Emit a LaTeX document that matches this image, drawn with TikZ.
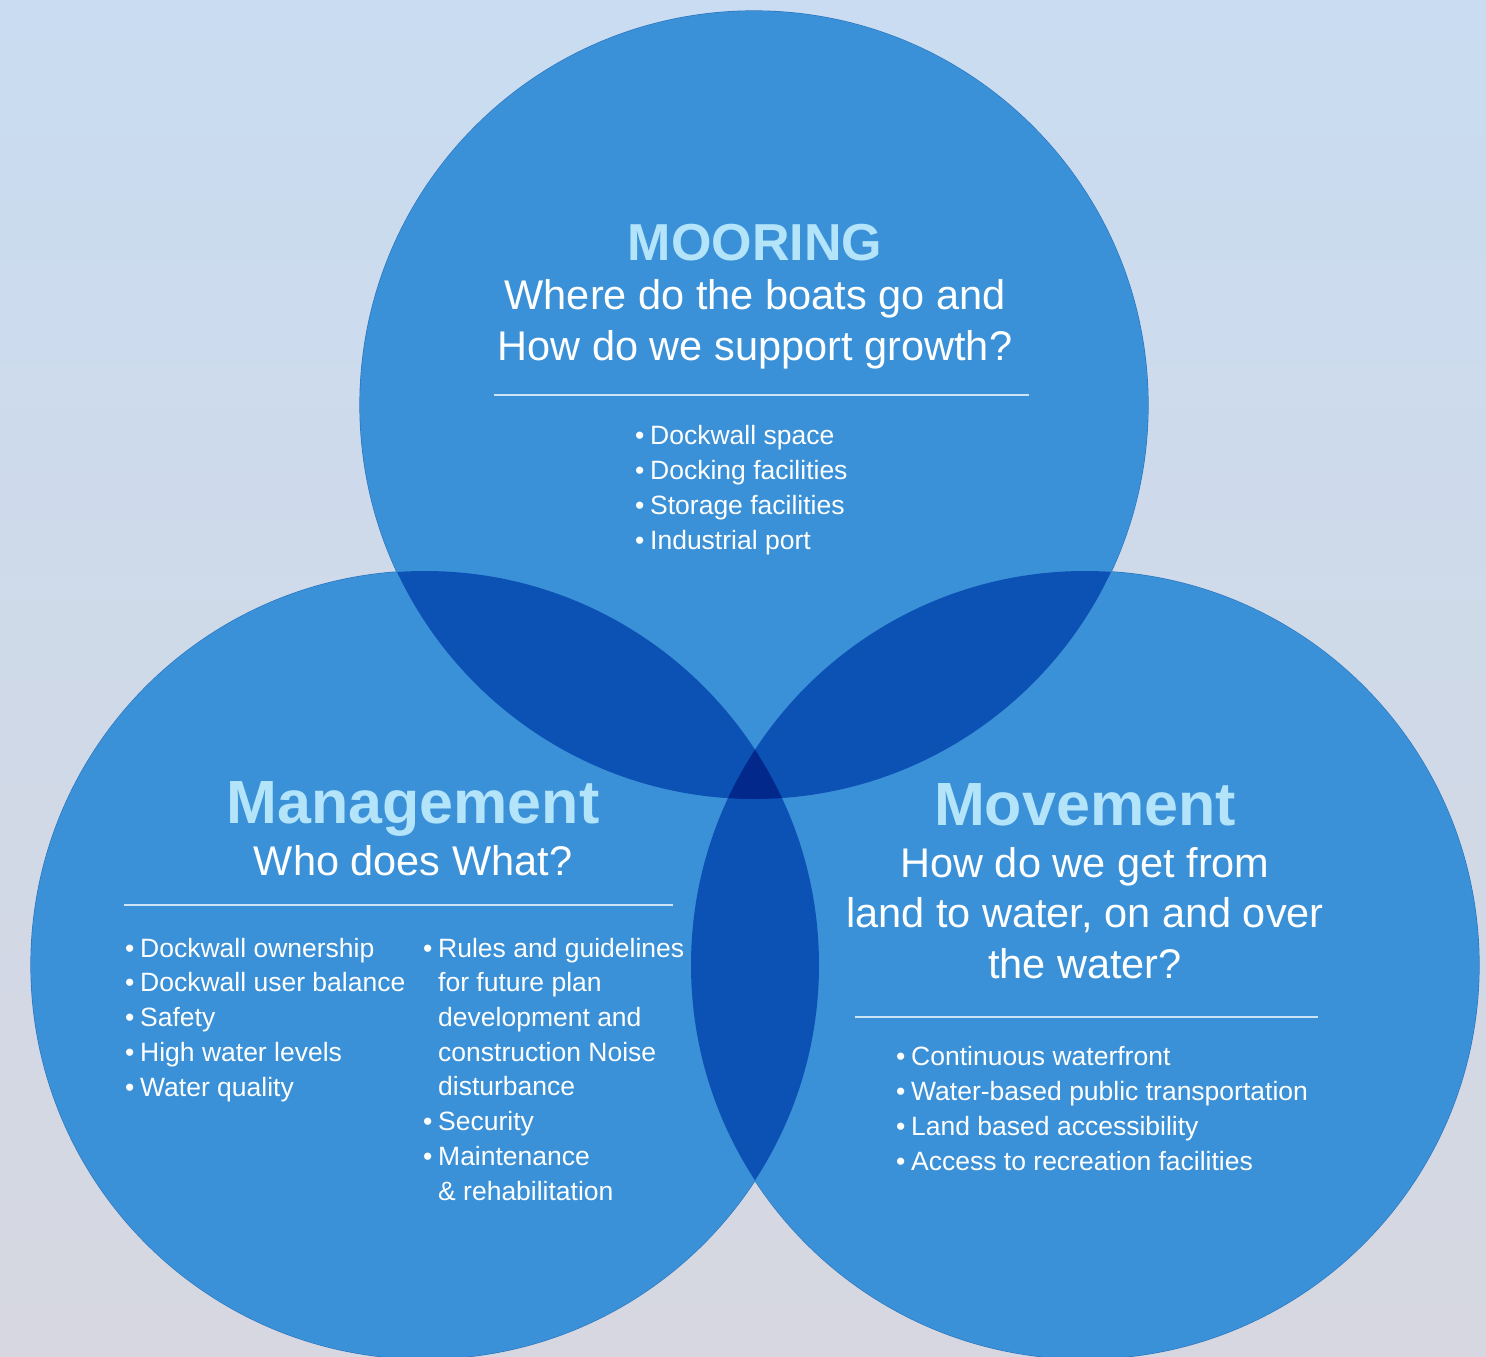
\documentclass[tikz,border=0pt]{standalone}
\usepackage{fontspec}
\setmainfont{Liberation Sans}
\usetikzlibrary{positioning}

\definecolor{skytop}{RGB}{201,220,241}
\definecolor{skybot}{RGB}{214,215,224}
\definecolor{ringblue}{RGB}{58,145,216}
\definecolor{ringedge}{RGB}{40,115,190}
\definecolor{pairblue}{RGB}{12,82,180}
\definecolor{coreblue}{RGB}{3,40,140}
\definecolor{headcyan}{RGB}{180,228,250}
\definecolor{rulecol}{RGB}{205,228,246}

\newcommand\bul{\makebox[15pt][l]{\textbullet}}
\newcommand\gap{\hspace*{15pt}}

\tikzset{
  headline/.style={font=\bfseries\fontsize{61}{61}\selectfont, text=headcyan, inner sep=0pt, anchor=base},
  question/.style={font=\fontsize{41.5}{50.5}\selectfont, text=white, align=center, inner sep=0pt, anchor=base},
  itemlist/.style={font=\fontsize{26.5}{34.7}\selectfont, text=white, align=left, inner sep=0pt, anchor=base west},
  sepline/.style={draw=rulecol, line width=1.5pt},
}

\begin{document}
\begin{tikzpicture}[x=1pt,y=-1pt]
\useasboundingbox (0,0) rectangle (1486,1357);
\shade[top color=skytop, bottom color=skybot] (0,0) rectangle (1486,1357);

% the three rings
\coordinate (mooringc) at (754,405);
\coordinate (managec) at (425,965);
\coordinate (movec) at (1085,965);
\foreach \c in {mooringc,managec,movec}
    \draw[ringedge, line width=1.2pt] (\c) circle (394pt);
\foreach \c in {mooringc,managec,movec}
    \fill[ringblue] (\c) circle (394pt);

% overlaps
\begin{scope}
\clip (mooringc) circle (394pt);
\fill[pairblue] (managec) circle (394pt);
\fill[pairblue] (movec) circle (394pt);
\end{scope}
\begin{scope}
\clip (managec) circle (394pt);
\fill[pairblue] (movec) circle (394pt);
\end{scope}
\begin{scope}
\clip (mooringc) circle (394pt);
\clip (managec) circle (394pt);
\fill[coreblue] (movec) circle (394pt);
\end{scope}

% mooring (multi-line nodes sit on the baseline of their last line)
\node[headline, font=\bfseries\fontsize{52}{52}\selectfont] (mooringhead) at (755,260) {MOORING};
\node[question] (mooringask) at (755,360) {Where do the boats go and\\How do we support growth?};
\draw[sepline] (494,395) -- (1029,395);
\node[itemlist] (mooringlist) at (635,549) {\bul Dockwall space\\\bul Docking facilities\\\bul Storage facilities\\\bul Industrial port};

% management
\node[headline] (managehead) at (413,823) {Management};
\node[question] (manageask) at (413,875) {Who does What?};
\draw[sepline] (124,905) -- (673,905);
\node[itemlist] (managelista) at (125,1096) {\bul Dockwall ownership\\\bul Dockwall user balance\\\bul Safety\\\bul High water levels\\\bul Water quality};
\node[itemlist] (managelistb) at (423,1200) {\bul Rules and guidelines\\\gap for future plan\\\gap development and\\\gap construction Noise\\\gap disturbance\\\bul Security\\\bul Maintenance\\\gap \& rehabilitation};

% movement
\node[headline] (movehead) at (1085,825) {Movement};
\node[question] (moveask) at (1085,978) {How do we get from\\land to water, on and over\\the water?};
\draw[sepline] (855,1017) -- (1318,1017);
\node[itemlist] (movelist) at (896,1170) {\bul Continuous waterfront\\\bul Water-based public transportation\\\bul Land based accessibility\\\bul Access to recreation facilities};
\end{tikzpicture}
\end{document}
